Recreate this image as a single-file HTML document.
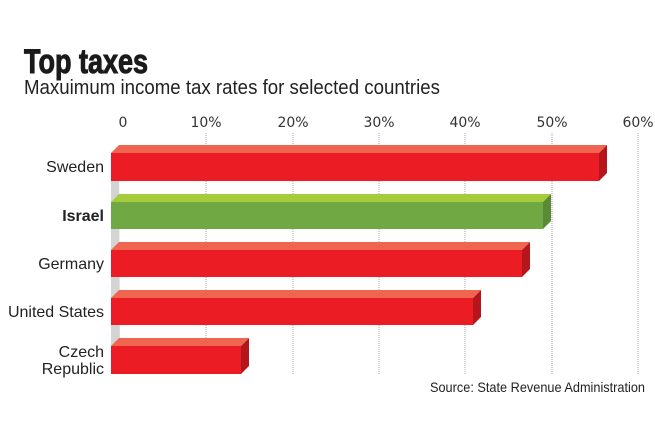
<!DOCTYPE html>
<html><head><meta charset="utf-8"><style>body{margin:0;background:#fff}svg{display:block}</style></head><body>
<svg width="655" height="430" viewBox="0 0 655 430" xmlns="http://www.w3.org/2000/svg" font-family="Liberation Sans, sans-serif">
<rect width="655" height="430" fill="#fff"/>
<text x="24" y="73" font-size="34" font-weight="bold" fill="#1a1a1a" stroke="#1a1a1a" stroke-width="1" textLength="124" lengthAdjust="spacingAndGlyphs">Top taxes</text>
<text x="24" y="94" font-size="20" fill="#222" textLength="416" lengthAdjust="spacingAndGlyphs">Maxuimum income tax rates for selected countries</text>
<g font-size="14" fill="#333" text-anchor="middle" font-family="DejaVu Sans, sans-serif">
<text x="123" y="127">0</text><text x="206" y="127">10%</text><text x="293" y="127">20%</text><text x="379" y="127">30%</text><text x="465" y="127">40%</text><text x="552" y="127">50%</text><text x="638" y="127">60%</text>
</g>
<g stroke="#aaa" stroke-width="1" stroke-dasharray="1,1">
<line x1="206" y1="133" x2="206" y2="375"/><line x1="293" y1="133" x2="293" y2="375"/><line x1="379" y1="133" x2="379" y2="375"/><line x1="465" y1="133" x2="465" y2="375"/><line x1="552" y1="133" x2="552" y2="375"/><line x1="638" y1="133" x2="638" y2="375"/>
</g>
<polygon points="111,153 119,145 120,366 111,374" fill="#d4d4d4"/>
<g>
<polygon points="111,153 119,145 607,145 599,153" fill="#f0654f"/><rect x="111" y="153" width="488" height="28" fill="#ec1c24"/><polygon points="599,153 607,145 607,173 599,181" fill="#b5161b"/>
<polygon points="111,202 119,194 551,194 543,202" fill="#a4cc3c"/><rect x="111" y="202" width="432" height="27" fill="#70a843"/><polygon points="543,202 551,194 551,221 543,229" fill="#5a8a33"/>
<polygon points="111,250 119,242 530,242 522,250" fill="#f0654f"/><rect x="111" y="250" width="411" height="27" fill="#ec1c24"/><polygon points="522,250 530,242 530,269 522,277" fill="#b5161b"/>
<polygon points="111,298 119,290 481,290 473,298" fill="#f0654f"/><rect x="111" y="298" width="362" height="27" fill="#ec1c24"/><polygon points="473,298 481,290 481,317 473,325" fill="#b5161b"/>
<polygon points="111,346 119,338 249,338 241,346" fill="#f0654f"/><rect x="111" y="346" width="130" height="28" fill="#ec1c24"/><polygon points="241,346 249,338 249,366 241,374" fill="#b5161b"/>
</g>
<g font-size="16" fill="#222" text-anchor="end">
<text x="104" y="172">Sweden</text>
<text x="104" y="221" font-weight="bold">Israel</text>
<text x="104" y="269">Germany</text>
<text x="104" y="317">United States</text>
<text x="104" y="357">Czech</text>
<text x="104" y="374">Republic</text>
</g>
<text x="430" y="392" font-size="14" fill="#222" textLength="215" lengthAdjust="spacingAndGlyphs">Source: State Revenue Administration</text>
</svg>
</body></html>
